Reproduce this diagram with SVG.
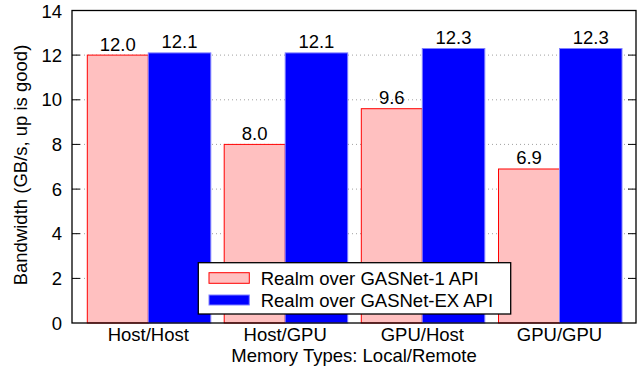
<svg xmlns="http://www.w3.org/2000/svg" width="643" height="371" viewBox="0 0 643 371">
  <style>
    text { font-family: "Liberation Sans", Arial, sans-serif; font-size: 18.5px; fill: #000; }
    .grid { stroke: #a0a0a0; stroke-width: 1; stroke-dasharray: 1 3; }
    .tick { stroke: #000; stroke-width: 1; }
    .frame { fill: none; stroke: #000; stroke-width: 1.3; }
    .gn1 { fill: #ffc0c0; stroke: #ff0000; stroke-width: 1; }
    .gnex { fill: #0000ff; stroke: #8080ff; stroke-width: 1; }
    .ylab { text-anchor: end; }
    .mid { text-anchor: middle; }
  </style>

  <rect width="643" height="371" fill="#ffffff"/>

  <!-- grid lines every 2 GB/s -->
  <g id="grid">
    <line class="grid" x1="72" y1="278.4" x2="636" y2="278.4"/>
    <line class="grid" x1="72" y1="233.7" x2="636" y2="233.7"/>
    <line class="grid" x1="72" y1="189.1" x2="636" y2="189.1"/>
    <line class="grid" x1="72" y1="144.4" x2="636" y2="144.4"/>
    <line class="grid" x1="72" y1="99.8" x2="636" y2="99.8"/>
    <line class="grid" x1="72" y1="55.1" x2="636" y2="55.1"/>
  </g>

  <!-- bars -->
  <g id="host-host">
    <rect class="gn1" x="87.3" y="55.1" width="61" height="267.9"/>
    <rect class="gnex" x="148.3" y="52.9" width="62.5" height="270.1"/>
    <text class="mid" x="117.8" y="50.5">12.0</text>
    <text class="mid" x="179.5" y="48.3">12.1</text>
  </g>
  <g id="host-gpu">
    <rect class="gn1" x="224.2" y="144.4" width="61" height="178.6"/>
    <rect class="gnex" x="285.2" y="52.9" width="62.5" height="270.1"/>
    <text class="mid" x="254.7" y="139.8">8.0</text>
    <text class="mid" x="316.4" y="48.3">12.1</text>
  </g>
  <g id="gpu-host">
    <rect class="gn1" x="361.3" y="108.7" width="61" height="214.3"/>
    <rect class="gnex" x="422.3" y="48.5" width="62.5" height="274.5"/>
    <text class="mid" x="391.8" y="104.1">9.6</text>
    <text class="mid" x="453.5" y="43.9">12.3</text>
  </g>
  <g id="gpu-gpu">
    <rect class="gn1" x="498.5" y="169" width="61" height="154"/>
    <rect class="gnex" x="559.5" y="48.5" width="62.5" height="274.5"/>
    <text class="mid" x="529" y="164.4">6.9</text>
    <text class="mid" x="590.7" y="43.9">12.3</text>
  </g>

  <!-- axes, ticks and labels -->
  <g id="axes">
    <g>
      <line class="tick" x1="72" y1="278.4" x2="80" y2="278.4"/>
      <line class="tick" x1="72" y1="233.7" x2="80" y2="233.7"/>
      <line class="tick" x1="72" y1="189.1" x2="80" y2="189.1"/>
      <line class="tick" x1="72" y1="144.4" x2="80" y2="144.4"/>
      <line class="tick" x1="72" y1="99.8" x2="80" y2="99.8"/>
      <line class="tick" x1="72" y1="55.1" x2="80" y2="55.1"/>
      <line class="tick" x1="628" y1="278.4" x2="636" y2="278.4"/>
      <line class="tick" x1="628" y1="233.7" x2="636" y2="233.7"/>
      <line class="tick" x1="628" y1="189.1" x2="636" y2="189.1"/>
      <line class="tick" x1="628" y1="144.4" x2="636" y2="144.4"/>
      <line class="tick" x1="628" y1="99.8" x2="636" y2="99.8"/>
      <line class="tick" x1="628" y1="55.1" x2="636" y2="55.1"/>
    </g>
    <rect class="frame" x="72" y="10.5" width="564" height="312.5"/>
    <text class="ylab" x="62" y="329.6">0</text>
    <text class="ylab" x="62" y="285">2</text>
    <text class="ylab" x="62" y="240.3">4</text>
    <text class="ylab" x="62" y="195.7">6</text>
    <text class="ylab" x="62" y="151">8</text>
    <text class="ylab" x="62" y="106.4">10</text>
    <text class="ylab" x="62" y="61.7">12</text>
    <text class="ylab" x="62" y="17.8">14</text>

    <text class="mid" x="148.3" y="341">Host/Host</text>
    <text class="mid" x="285.2" y="341">Host/GPU</text>
    <text class="mid" x="422.3" y="341">GPU/Host</text>
    <text class="mid" x="559.5" y="341">GPU/GPU</text>

    <text class="mid" x="354" y="361.5">Memory Types: Local/Remote</text>
    <text class="mid" transform="translate(27,165) rotate(-90)">Bandwidth (GB/s, up is good)</text>
  </g>

  <!-- legend -->
  <g id="legend">
    <rect x="198.3" y="262.7" width="312.4" height="51.3" fill="#ffffff" stroke="#000" stroke-width="1.3"/>
    <rect class="gn1" x="209" y="272.7" width="40.3" height="10.6"/>
    <rect class="gnex" x="209" y="295" width="40.3" height="10"/>
    <text x="260.7" y="285">Realm over GASNet-1 API</text>
    <text x="260.7" y="306.7">Realm over GASNet-EX API</text>
  </g>
</svg>
